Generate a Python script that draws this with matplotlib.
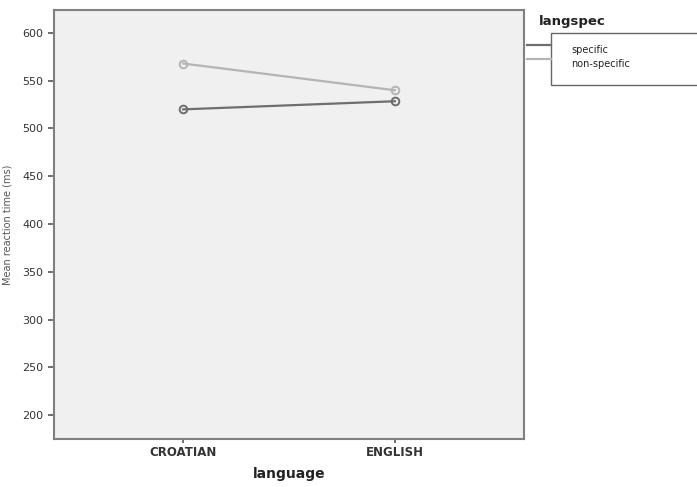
import matplotlib
matplotlib.use("Agg")
import matplotlib.pyplot as plt
from matplotlib.lines import Line2D
from matplotlib.patches import Rectangle

categories = ["CROATIAN", "ENGLISH"]
series_names = ["specific", "non-specific"]
specific = [520, 528.5]
non_specific = [568, 540]
yticks = [200, 250, 300, 350, 400, 450, 500, 550, 600]
colors = ["#6e6e6e", "#b4b4b4"]

W, H = 697, 487
fig = plt.figure(figsize=(W / 100, H / 100), dpi=100)
ax = fig.add_axes([54 / W, 1 - 439 / H, (524 - 54) / W, (439 - 10) / H])
ax.set_facecolor("#f0f0f0")

x = list(range(len(categories)))
for vals, c in zip([specific, non_specific], colors):
    ax.plot(x, vals, color=c, lw=1.6, marker="o", ms=5.5, mfc="none", mec=c, mew=1.4)

ax.set_xlim(-0.61, 1.61)
ax.set_ylim(175, 624)
ax.set_yticks(yticks)
ax.set_yticklabels([str(t) for t in yticks], fontsize=8, color="#333333")
ax.set_xticks(x)
ax.set_xticklabels(categories, fontsize=8.5, fontweight="bold", color="#333333")
ax.tick_params(axis="both", direction="out", length=4, width=1.2, color="#555555")
ax.tick_params(axis="x", length=3, pad=2)
for s in ax.spines.values():
    s.set_color("#808080")
    s.set_linewidth(1.5)
ax.set_xlabel("language", fontsize=10, fontweight="bold", color="#222222", labelpad=6)

# faint y label at the far left edge
fig.text(8 / W, 1 - 225 / H, "Mean reaction time (ms)", rotation=90, fontsize=7,
         color="#555555", ha="center", va="center")

# legend
fig.text(539 / W, 1 - 22 / H, "langspec", fontsize=9.5, fontweight="bold",
         color="#222222", ha="left", va="center")
fig.patches.append(Rectangle((551 / W, 1 - 85 / H), (W - 551 + 10) / W, 52 / H,
                             transform=fig.transFigure, facecolor="white",
                             edgecolor="#666666", lw=1.0))
for i, (name, c) in enumerate(zip(series_names, colors)):
    yy = 1 - (45 + 14 * i) / H
    fig.lines.append(Line2D([527 / W, 551 / W], [yy, yy], transform=fig.transFigure,
                            color=c, lw=1.6))
    fig.text(571 / W, 1 - (50 + 14 * i) / H, name, fontsize=7, color="#222222",
             ha="left", va="center")

fig.savefig("out.png", dpi=100)
